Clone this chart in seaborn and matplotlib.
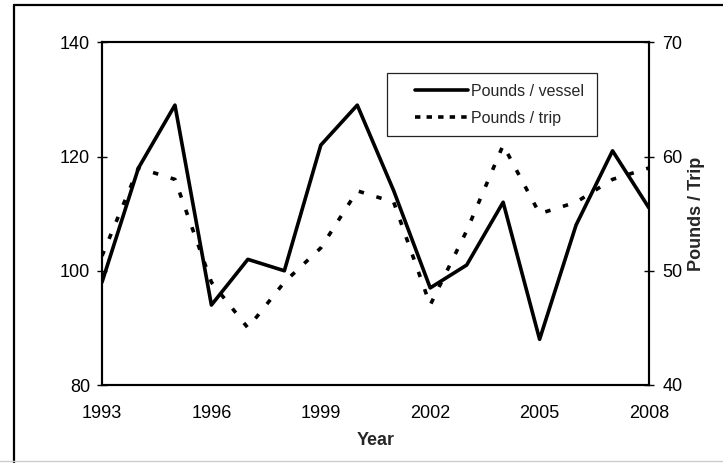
import matplotlib
matplotlib.use("Agg")
import matplotlib.pyplot as plt
import seaborn as sns
import pandas as pd
from matplotlib.lines import Line2D
from matplotlib.patches import Rectangle

# ---- data ----
years = list(range(1993, 2009))
pounds_per_vessel = [98, 118, 129, 94, 102, 100, 122, 129, 114, 97, 101, 112, 88, 108, 121, 111]
pounds_per_trip = [51.3, 59, 58, 49, 45, 49, 52, 57, 56, 47, 53.5, 61, 55, 56, 58, 59]
labelled_years = [1993, 1996, 1999, 2002, 2005, 2008]
left_ticks = [80, 100, 120, 140]
right_ticks = [40, 50, 60, 70]
series_names = ["Pounds / vessel", "Pounds / trip"]
x_label = "Year"
right_label = "Pounds / Trip"

df = pd.DataFrame({"Year": years, "vessel": pounds_per_vessel, "trip": pounds_per_trip})

sns.set_style("white")
narrow = ["Liberation Sans Narrow", "Liberation Sans", "DejaVu Sans"]
plt.rcParams["font.family"] = narrow

W, H = 723, 463
fig = plt.figure(figsize=(W / 100, H / 100), dpi=100)
ax = fig.add_axes([102 / W, 1 - 385 / H, (649 - 102) / W, (385 - 42.3) / H])
ax2 = ax.twinx()

lw = 2.6
sns.lineplot(data=df, x="Year", y="vessel", ax=ax, color="black", lw=lw)
sns.lineplot(data=df, x="Year", y="trip", ax=ax2, color="black", lw=lw,
             dashes=False)
ax2.lines[0].set_dashes((1.5, 3.6))
ax2.lines[0].set_solid_capstyle("butt")

ax.set_xlim(years[0], years[-1])
ax.set_ylim(left_ticks[0], left_ticks[-1])
ax2.set_ylim(right_ticks[0], right_ticks[-1])
ax.set_yticks(left_ticks)
ax2.set_yticks(right_ticks)
ax.set_xticks(years)
ax.set_xticklabels([str(y) if y in labelled_years else "" for y in years])

for a in (ax, ax2):
    for s in a.spines.values():
        s.set_linewidth(1.5)
        s.set_color("black")
ax.tick_params(axis="x", direction="inout", length=9, width=1.0, pad=10,
               labelsize=13, colors="black")
ax.tick_params(axis="y", direction="inout", length=7, width=1.0, pad=5,
               labelsize=13, colors="black")
ax2.tick_params(axis="y", direction="inout", length=7, width=1.0, pad=6,
                labelsize=13, colors="black")

ax.set_xlabel(x_label, fontsize=13, fontweight="bold", labelpad=7)
ax.set_ylabel("")
ax2.set_ylabel(right_label, fontsize=13, fontweight="bold",
               family=["Liberation Sans", "DejaVu Sans"], labelpad=4)

# legend
h1 = Line2D([], [], color="black", lw=lw)
h2 = Line2D([], [], color="black", lw=lw, dashes=(1.5, 1.7))
fig.legend([h1, h2], series_names, loc="center left",
           bbox_to_anchor=(415 / W, 1 - 105 / H), bbox_transform=fig.transFigure,
           frameon=False, fontsize=11.5, handlelength=3.3, handletextpad=0.22,
           borderpad=0, borderaxespad=0, labelspacing=0.75)
fig.add_artist(Rectangle((386.7 / W, 1 - 135.7 / H), 210.6 / W, 62.4 / H,
                         transform=fig.transFigure, facecolor="none",
                         edgecolor="#222222", lw=0.9))

# outer frame
fig.add_artist(Line2D([14 / W, 14 / W], [0, 1 - 5 / H], transform=fig.transFigure,
                      color="black", lw=1.6))
fig.add_artist(Line2D([14 / W, 1], [1 - 5 / H, 1 - 5 / H], transform=fig.transFigure,
                      color="black", lw=1.6))
fig.add_artist(Line2D([0, 1], [1 - 461 / H, 1 - 461 / H], transform=fig.transFigure,
                      color="#cccccc", lw=1.0))

fig.savefig("out.png", dpi=100)
